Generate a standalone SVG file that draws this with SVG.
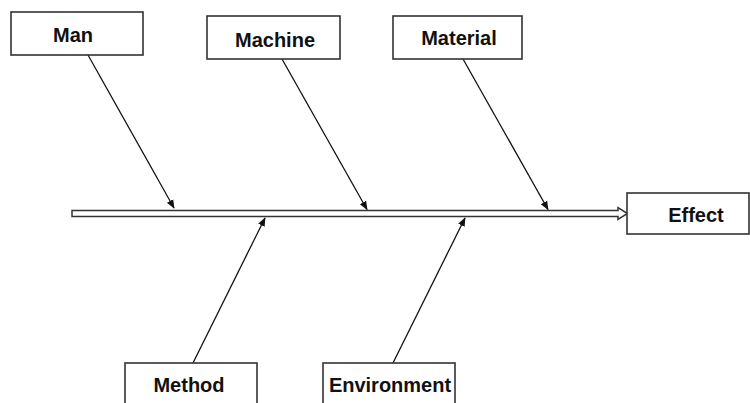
<svg xmlns="http://www.w3.org/2000/svg" width="750" height="403" viewBox="0 0 750 403">
<style>
.box{fill:#fff;stroke:#333;stroke-width:1.6}
.lbl{font-family:"Liberation Sans",Arial,sans-serif;font-weight:bold;font-size:20px;fill:#111;text-anchor:middle}
.bone{stroke:#111;stroke-width:1.3;fill:none;marker-end:url(#ah)}
</style>
<defs>
<marker id="ah" viewBox="0 0 10 10" refX="9" refY="5" markerWidth="9" markerHeight="9" markerUnits="userSpaceOnUse" orient="auto">
<path d="M0,1 L10,5 L0,9 Z" fill="#111"/>
</marker>
</defs>
<rect width="750" height="403" fill="#fff"/>
<g id="connectors">
<polygon points="72,210.5 618,210.5 618,207.5 627.5,213.5 618,219.5 618,216.5 72,216.5" fill="#fff" stroke="#333" stroke-width="1.5"/>
<line class="bone" x1="88" y1="55" x2="174" y2="208"/>
<line class="bone" x1="282" y1="59" x2="367" y2="209.5"/>
<line class="bone" x1="463" y1="59" x2="548" y2="209.5"/>
<line class="bone" x1="193" y1="363" x2="265" y2="218"/>
<line class="bone" x1="393" y1="363" x2="465" y2="218"/>
</g>
<g id="man"><rect class="box" x="11" y="12" width="132" height="43"/><text class="lbl" x="73" y="42">Man</text></g>
<g id="machine"><rect class="box" x="207" y="16" width="133" height="43"/><text class="lbl" x="275" y="47">Machine</text></g>
<g id="material"><rect class="box" x="393" y="16" width="129" height="43"/><text class="lbl" x="459" y="45">Material</text></g>
<g id="effect"><rect class="box" x="627" y="193" width="122" height="41"/><text class="lbl" x="696" y="222">Effect</text></g>
<g id="method"><rect class="box" x="125" y="363" width="132" height="50"/><text class="lbl" x="189" y="392">Method</text></g>
<g id="environment"><rect class="box" x="323" y="363" width="132" height="50"/><text class="lbl" x="390" y="392">Environment</text></g>
</svg>
